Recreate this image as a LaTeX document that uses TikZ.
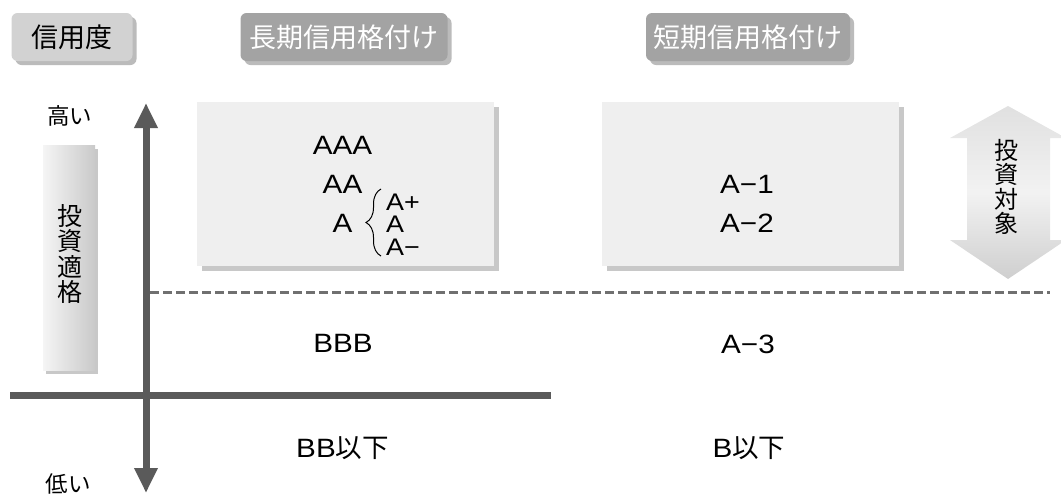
\documentclass[tikz,border=0pt]{standalone}
\usepackage{fontspec}
\setmainfont{Noto Sans CJK JP}
\newfontfamily\latin[FakeStretch=1.12]{Liberation Sans}
\usetikzlibrary{arrows.meta,decorations.pathreplacing,shadows}
\definecolor{axisgray}{HTML}{5A5A5A}
\definecolor{dashgray}{HTML}{707070}
\definecolor{boxfill}{HTML}{EFEFEF}
\definecolor{boxshadow}{HTML}{C8C8C8}
\definecolor{hdrlight}{HTML}{D2D2D2}
\definecolor{hdrdark}{HTML}{A3A3A3}
\definecolor{hdrshadow}{HTML}{BBBBBB}
\tikzset{
  hdr/.style={rounded corners=6pt, minimum height=48pt, inner sep=0pt,
    font=\fontsize{27}{30}\selectfont,
    drop shadow={shadow xshift=4pt, shadow yshift=-4pt, fill=hdrshadow, opacity=1}},
  panel/.style={fill=boxfill, minimum width=297pt, minimum height=164pt, inner sep=0pt,
    drop shadow={shadow xshift=5pt, shadow yshift=-5pt, fill=boxshadow, opacity=1}},
  grade/.style={inner sep=0pt, anchor=base, font=\fontsize{26.5}{28}\selectfont\latin},
  subgrade/.style={inner sep=0pt, anchor=base west, font=\fontsize{24}{26}\selectfont\latin},
  label/.style={inner sep=0pt, font=\fontsize{22.5}{24}\selectfont},
  vtext/.style={inner sep=0pt, align=center, font=\fontsize{25}{25.5}\selectfont},
  axis/.style={line width=7pt, draw=axisgray},
}
\begin{document}
\begin{tikzpicture}[x=1pt,y=-1pt]
\useasboundingbox (0,0) rectangle (1061,496);
% headers
\node[hdr, fill=hdrlight, minimum width=121pt] (hcredit) at (72,37) {信用度};
\node[hdr, fill=hdrdark, text=white, minimum width=207pt] (hlong) at (344,37) {長期信用格付け};
\node[hdr, fill=hdrdark, text=white, minimum width=204pt] (hshort) at (748,37) {短期信用格付け};
% panels
\node[panel] (plong) at (345.5,184) {};
\node[panel] (pshort) at (750.5,184) {};
% investment grade bar
\node[minimum width=52pt, minimum height=225pt, inner sep=0pt,
  left color=white!92!gray, right color=gray!42,
  drop shadow={shadow xshift=3pt, shadow yshift=-4pt, fill=boxshadow, opacity=1}] (bar) at (69,257.5) {};
\node[vtext] (bartext) at (69.5,254) {投\\資\\適\\格};
% investment target double arrow
\shade[top color=gray!24, bottom color=gray!38, middle color=gray!10]
  (1008,106) -- (1066,138) -- (1050,138) -- (1050,240) -- (1066,240) -- (1008,279)
  -- (950,240) -- (967,240) -- (967,138) -- (950,138) -- cycle;
\node[vtext, font=\fontsize{24}{24.5}\selectfont] (target) at (1006.5,187) {投\\資\\対\\象};
% dashed line
\coordinate (dl) at (150,292);
\coordinate (dr) at (1050,292);
\draw[dashgray, line width=3pt, dash pattern=on 9pt off 4pt] (dl) -- (dr);
% axes
\coordinate (atop) at (146,103);
\coordinate (abot) at (146,493);
\coordinate (hl) at (10,395);
\coordinate (hr) at (551,395);
\draw[axis] (hl) -- (hr);
\draw[axis, {Triangle[width=22pt,length=25pt]}-{Triangle[width=22pt,length=25pt]}] (atop) -- (abot);
\node[label] (high) at (69.5,116) {高い};
\node[label] (low) at (68,484) {低い};
% long-term grades
\node[grade] (aaa) at (342.5,154) {AAA};
\node[grade] (aa) at (342.5,193) {AA};
\node[grade] (a) at (342.5,232) {A};
\node[subgrade] (ap) at (386,210) {A+};
\node[subgrade] (a0) at (386,232) {A};
\node[subgrade] (am) at (386,255) {A−};
\draw[line width=1pt, decorate, decoration={brace, amplitude=15pt, mirror}]
  (381,189) -- (381,256);
\node[grade] (bbb) at (343,352) {BBB};
\node[grade] (bb) at (342.5,457) {{\latin BB}\fontsize{26.5}{28}\selectfont\rmfamily 以下};
% short-term grades
\node[grade] (a1) at (747,193) {A−1};
\node[grade] (a2) at (747,232) {A−2};
\node[grade] (a3) at (748,353) {A−3};
\node[grade] (b) at (749,457) {B\rmfamily 以下};
\end{tikzpicture}
\end{document}
